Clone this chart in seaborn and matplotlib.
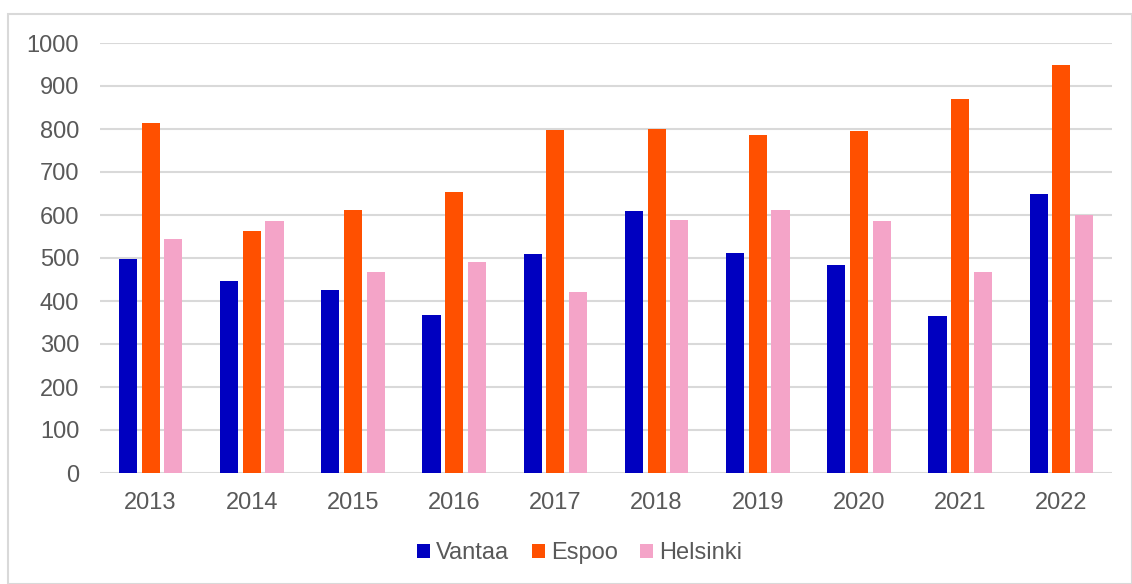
import pandas as pd
import matplotlib.pyplot as plt
import seaborn as sns
from matplotlib.patches import Rectangle

# Data
years = ['2013', '2014', '2015', '2016', '2017', '2018', '2019', '2020', '2021', '2022']
vantaa = [498, 447, 426, 368, 509, 609, 512, 484, 365, 650]
espoo = [813, 562, 612, 653, 798, 801, 786, 795, 870, 949]
helsinki = [544, 587, 467, 491, 421, 588, 611, 587, 467, 599]
cities = ['Vantaa', 'Espoo', 'Helsinki']
colors = ['#0000c0', '#ff5000', '#f4a4c8']

df = pd.DataFrame({'Vuosi': years, 'Vantaa': vantaa, 'Espoo': espoo, 'Helsinki': helsinki})
df = df.melt(id_vars='Vuosi', var_name='Kaupunki', value_name='Arvo')

sns.set_style('white')
plt.rcParams['font.family'] = ['Liberation Sans', 'DejaVu Sans']

fig = plt.figure(figsize=(11.32, 5.84), dpi=100)
ax = fig.add_axes([100 / 1132, 1 - 473 / 584, 1012 / 1132, 430 / 584])

sns.barplot(data=df, x='Vuosi', y='Arvo', hue='Kaupunki', hue_order=cities,
            palette=colors, width=0.672, gap=0.2, saturation=1, linewidth=0,
            ax=ax, legend=True)

ax.set_ylim(0, 1000)
ax.set_xlim(-0.5, 9.5)
ax.set_yticks(range(0, 1001, 100))
ax.yaxis.grid(True, color='#d9d9d9', linewidth=1.5)
ax.set_axisbelow(True)
for s in ax.spines.values():
    s.set_visible(False)
ax.set_xlabel('')
ax.set_ylabel('')
ax.tick_params(axis='both', length=0, labelsize=17, labelcolor='#595959')
ax.tick_params(axis='x', pad=14)
ax.tick_params(axis='y', pad=15)

# legend sits slightly left of the plot centre, as in the original
leg = ax.legend(loc='center', bbox_to_anchor=(0.474, -0.186), ncol=3, frameon=False,
                fontsize=17, handlelength=0.55, handleheight=0.55, handletextpad=0.25,
                columnspacing=0.95, labelcolor='#595959')

# chart border
fig.patches.append(Rectangle((8 / 1132, 0), 1 - 8 / 1132, 1 - 14 / 584, transform=fig.transFigure,
                             fill=False, edgecolor='#d9d9d9', linewidth=1.5))

fig.savefig('out.png', dpi=100)
